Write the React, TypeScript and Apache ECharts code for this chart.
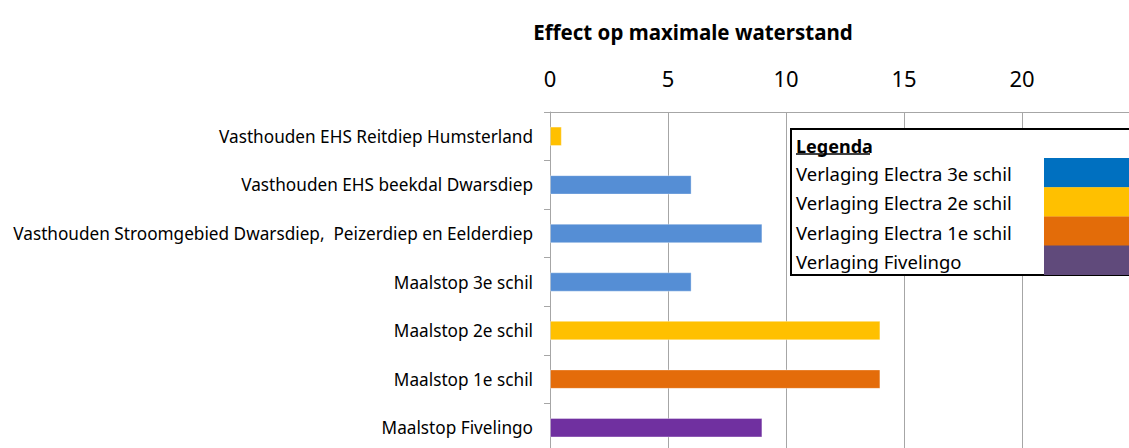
import React, { useEffect, useRef } from "react";
import * as echarts from "echarts";

const categories = [
  "Vasthouden EHS Reitdiep Humsterland",
  "Vasthouden EHS beekdal Dwarsdiep",
  "Vasthouden Stroomgebied Dwarsdiep,  Peizerdiep en Eelderdiep",
  "Maalstop 3e schil",
  "Maalstop 2e schil",
  "Maalstop 1e schil",
  "Maalstop Fivelingo",
];
const values = [0.5, 6, 9, 6, 14, 14, 9];
const barColors = ["#FFC000", "#558ED5", "#558ED5", "#558ED5", "#FFC000", "#E46C0A", "#7030A0"];
const xTicks = [0, 5, 10, 15, 20];
const legendTitle = "Legenda";
const legendLabels = [
  "Verlaging Electra 3e schil",
  "Verlaging Electra 2e schil",
  "Verlaging Electra 1e schil",
  "Verlaging Fivelingo",
];
const legendColors = ["#0070C0", "#FFC000", "#E36C09", "#604A7B"];
const title = "Effect op maximale waterstand";

const FONT = "'Noto Sans', 'Open Sans', sans-serif";

export default function App() {
  const ref = useRef<HTMLDivElement>(null);
  useEffect(() => {
    if (!ref.current) return;
    const chart = echarts.init(ref.current, null, { renderer: "svg" });
    const legendX = 791;
    const legendY = 129;
    const rowH = 29.2;
    const swatchTop = 158;
    const graphic: any[] = [
      {
        type: "rect",
        shape: { x: legendX, y: legendY, width: 420, height: 146 },
        style: { fill: "#fff", stroke: "#000", lineWidth: 2 },
        z: 100,
      },
      {
        type: "text",
        x: 796,
        y: 146,
        style: {
          text: legendTitle,
          font: `bold 18px ${FONT}`,
          fill: "#000",
          verticalAlign: "middle",
          align: "left",
        },
        z: 101,
      },
      {
        type: "line",
        shape: { x1: 796, y1: 154, x2: 870, y2: 154 },
        style: { stroke: "#000", lineWidth: 1.5 },
        z: 101,
      },
    ];
    legendLabels.forEach((lab, i) => {
      graphic.push({
        type: "text",
        x: 796,
        y: swatchTop + rowH * i + rowH / 2 + 1,
        style: {
          text: lab,
          font: `18.5px ${FONT}`,
          fill: "#000",
          verticalAlign: "middle",
          align: "left",
        },
        z: 101,
      });
      graphic.push({
        type: "rect",
        shape: { x: 1044, y: swatchTop + rowH * i, width: 200, height: rowH + 0.3 },
        style: { fill: legendColors[i] },
        z: 101,
      });
    });

    chart.setOption({
      animation: false,
      backgroundColor: "#fff",
      title: {
        text: title,
        left: 688,
        top: 27,
        textAlign: "center",
        textVerticalAlign: "middle",
        textStyle: { fontFamily: FONT, fontWeight: "bold", fontSize: 20.5, color: "#000" },
      },
      grid: { left: 550, top: 112, width: 590, height: 340, containLabel: false },
      xAxis: {
        type: "value",
        position: "top",
        min: 0,
        max: 25,
        interval: 5,
        axisLine: { show: true, lineStyle: { color: "#A6A6A6", width: 1 } },
        axisTick: { show: false },
        axisLabel: {
          margin: 23,
          fontFamily: FONT,
          fontSize: 22,
          color: "#000",
          formatter: (v: number) => (xTicks.includes(v) ? String(v) : ""),
        },
        splitLine: { show: true, lineStyle: { color: "#A6A6A6", width: 1 } },
      },
      yAxis: {
        type: "category",
        data: categories,
        inverse: true,
        axisLine: { show: true, lineStyle: { color: "#A6A6A6", width: 1 } },
        axisTick: { show: true, length: 6, lineStyle: { color: "#A6A6A6" } },
        axisLabel: { margin: 17, fontFamily: FONT, fontSize: 17.2, color: "#000" },
      },
      series: [
        {
          type: "bar",
          barWidth: "40%",
          data: values.map((v, i) => ({
            value: v,
            itemStyle: { color: barColors[i], borderColor: "rgba(255,255,255,0.35)", borderWidth: 1 },
          })),
        },
      ],
      graphic,
    });
    return () => chart.dispose();
  }, []);
  return (
    <div style={{ position: "fixed", left: 0, top: 0, width: 1129, height: 448, overflow: "hidden" }}>
      <div ref={ref} style={{ width: 1300, height: 460 }} />
    </div>
  );
}
